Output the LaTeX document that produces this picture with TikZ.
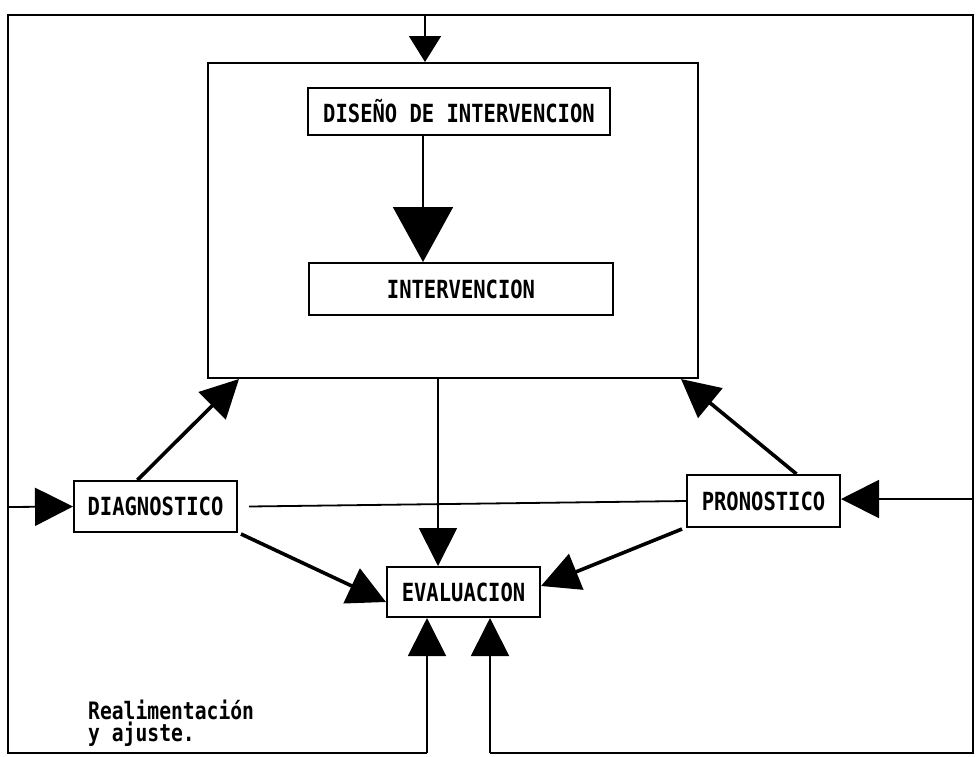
\documentclass[tikz,border=0pt]{standalone}
\usepackage{fontspec}
\newfontfamily\typ[FakeStretch=0.82]{DejaVu Sans Mono}
\usetikzlibrary{arrows.meta}
\tikzset{
  box/.style={draw, line width=2pt, inner sep=0pt, font=\typ\bfseries\fontsize{25}{27}\selectfont},
  wire/.style={line width=1.8pt},
  heavy/.style={line width=3.6pt},
  tipS/.style={-{Triangle[length=26pt,width=32pt]}},
  tipM/.style={-{Triangle[length=38pt,width=38pt]}},
  tipL/.style={-{Triangle[length=55pt,width=60pt]}},
}
\begin{document}
\begin{tikzpicture}[x=1pt,y=-1pt]
\useasboundingbox (0,0) rectangle (979,756);
% nodes
\node[box, minimum width=490pt, minimum height=315pt] (big) at (453,220.5) {};
\node[box, minimum width=302pt, minimum height=47pt] (dis) at (459,111.5) {DISEÑO DE INTERVENCION};
\node[box, minimum width=304pt, minimum height=52pt] (int) at (461,289) {INTERVENCION};
\node[box, minimum width=163pt, minimum height=51pt] (diag) at (155.5,506.5) {DIAGNOSTICO};
\node[box, minimum width=153pt, minimum height=52pt] (pron) at (763.5,501) {PRONOSTICO};
\node[box, minimum width=153pt, minimum height=50pt] (eval) at (463.5,592) {EVALUACION};
% frame coordinates
\coordinate (tl) at (8,15);
\coordinate (tr) at (973,15);
\coordinate (bl) at (8,753);
\coordinate (br) at (973,753);
\coordinate (b1) at (427,753);
\coordinate (b2) at (490,753);
\coordinate (topin) at (425,15);
\coordinate (lin) at (8,507);
\coordinate (rin) at (973,499);
% outer loop
\draw[wire] (b1) -- (bl) -- (tl) -- (tr) -- (br) -- (b2);
\draw[wire, tipS] (topin) -- (topin |- big.north);
\draw[wire, tipM] (b1) -- (b1 |- eval.south);
\draw[wire, tipM] (b2) -- (b2 |- eval.south);
\draw[wire, tipM] (lin) -- (diag.west);
\draw[wire, tipM] (rin) -- (rin -| pron.east);
% inside big box
\draw[wire, tipL] ([xshift=-36pt]dis.south) -- ([xshift=-36pt]dis.south |- int.north);
% big to evaluation
\draw[wire, tipM] ([xshift=-15pt]big.south) -- ([xshift=-15pt]big.south |- eval.north);
% diag - pron line
\draw[wire] ([xshift=11pt]diag.east) -- (pron.west);
% diagonal arrows
\draw[heavy, tipM] ([xshift=-18pt]diag.north) -- ([xshift=32pt]big.south west);
\draw[heavy, tipM] ([xshift=33pt]pron.north) -- ([xshift=-18pt]big.south east);
\draw[heavy, tipM] ([xshift=3pt,yshift=-1pt]diag.south east) -- ([yshift=-10pt]eval.west);
\draw[heavy, tipM] ([xshift=-4pt,yshift=-1pt]pron.south west) -- ([yshift=6pt]eval.east);
% label
\node[font=\typ\bfseries\fontsize{24}{22}\selectfont, align=left, anchor=base west, inner sep=0pt] (lab) at (88,741) {Realimentación\\y ajuste.};
\end{tikzpicture}
\end{document}
